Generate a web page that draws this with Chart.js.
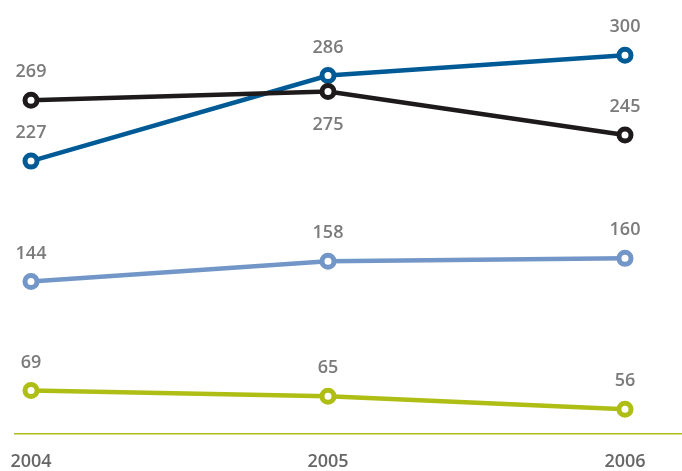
<!DOCTYPE html>
<html>
<head>
<meta charset="utf-8">
<script src="https://cdn.jsdelivr.net/npm/chart.js@4.4.1/dist/chart.umd.min.js"></script>
<style>
  html, body { margin: 0; padding: 0; background: #fff; overflow: hidden; }
  canvas { display: block; }
</style>
</head>
<body>
<canvas id="chart" width="682" height="471"></canvas>
<script>
var years = [2004, 2005, 2006];
var blueValues = [227, 286, 300];
var blackValues = [269, 275, 245];
var lightBlueValues = [144, 158, 160];
var greenValues = [69, 65, 56];

function toPoints(values) {
    return values.map(function (v, i) { return { x: years[i], y: v }; });
}

function makeSet(values, color, below) {
    return {
        data: toPoints(values),
        borderColor: color,
        borderWidth: 4.5,
        pointRadius: 6,
        pointHoverRadius: 6,
        pointBorderWidth: 5,
        pointBackgroundColor: '#fff',
        pointBorderColor: color,
        labelBelow: below || [],
        tension: 0,
        clip: false
    };
}

// value text over (or under) every point
var valueLabels = {
    id: 'valueLabels',
    afterDatasetsDraw: function (chart) {
        var ctx = chart.ctx;
        ctx.save();
        ctx.font = '600 18px "Open Sans"';
        ctx.fillStyle = '#7b7b7b';
        ctx.textAlign = 'center';
        ctx.textBaseline = 'middle';
        chart.data.datasets.forEach(function (ds, i) {
            chart.getDatasetMeta(i).data.forEach(function (pt, j) {
                var dy = ds.labelBelow[j] ? 33 : -28;
                ctx.fillText(String(ds.data[j].y), pt.x, pt.y + dy);
            });
        });
        ctx.restore();
    }
};

var ctx = document.getElementById('chart').getContext('2d');
var myChart = new Chart(ctx, {
    type: 'line',
    data: {
        datasets: [
            makeSet(greenValues, '#afbe14'),
            makeSet(lightBlueValues, '#7396c8'),
            makeSet(blackValues, '#1e1a1b', [false, true, false]),
            makeSet(blueValues, '#005a96')
        ]
    },
    options: {
        responsive: false,
        animation: false,
        devicePixelRatio: 1,
        layout: { autoPadding: false, padding: { left: 15, right: 0, top: 0, bottom: 0 } },
        plugins: {
            legend: { display: false },
            tooltip: { enabled: false }
        },
        scales: {
            x: {
                type: 'linear',
                min: 2004 - 16 / 297,
                max: 2006 + 57 / 297,
                afterBuildTicks: function (scale) {
                    scale.ticks = years.map(function (y) { return { value: y }; });
                },
                afterFit: function (scale) {
                    scale.height = 37;
                    scale.paddingLeft = 0;
                    scale.paddingRight = 0;
                },
                grid: { display: false, drawTicks: false },
                border: { display: true, color: '#afbe14', width: 1.5 },
                ticks: {
                    color: '#666666',
                    font: { family: 'Open Sans', size: 18, weight: '600', lineHeight: 1 },
                    padding: 19,
                    maxRotation: 0,
                    callback: function (v) { return String(v); }
                }
            },
            y: {
                display: false,
                min: 39,
                max: 338
            }
        }
    },
    plugins: [valueLabels]
});
</script>
</body>
</html>
